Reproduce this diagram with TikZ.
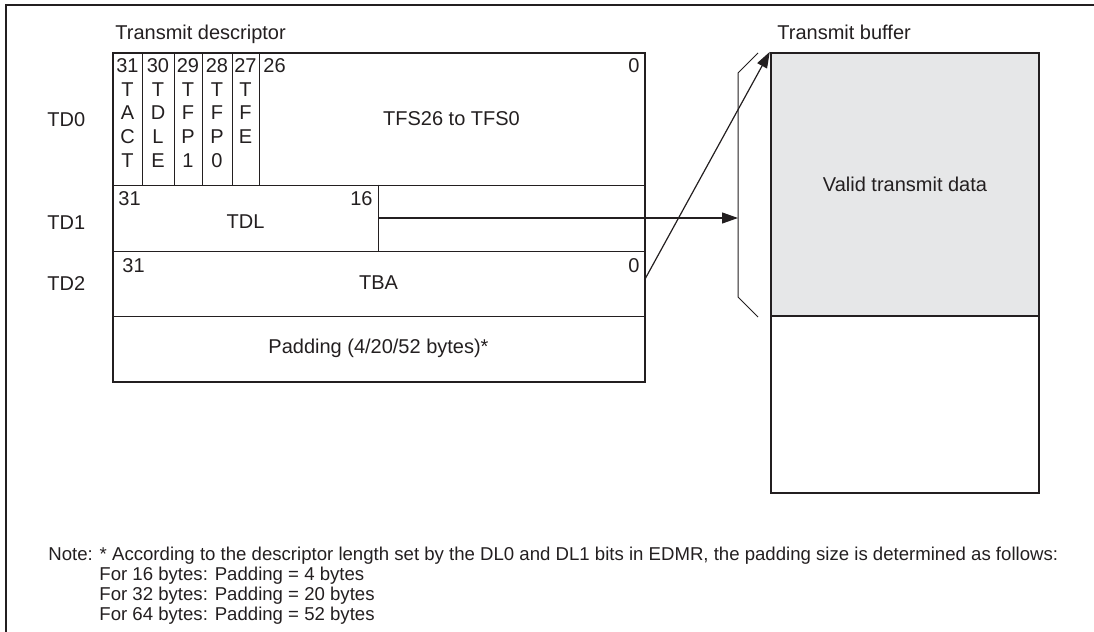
\documentclass[tikz,border=0pt]{standalone}
\usepackage{fontspec}
\setmainfont{Liberation Sans}
\usetikzlibrary{arrows.meta}
\definecolor{ink}{HTML}{231F20}
\definecolor{bufgray}{HTML}{E6E7E8}

\begin{document}
\begin{tikzpicture}[
    x=0.5pt,y=-0.5pt,
    font=\fontsize{10}{11.85}\selectfont,
    color=ink,
    >={Triangle[length=8pt,width=5.5pt]},
    fieldrow/.style={draw=ink,line width=0.5pt,inner sep=0pt,minimum width=265.5pt},
    bits/.style={inner sep=0pt,align=center,anchor=north},
    bitno/.style={inner sep=0pt},
    buf/.style={draw=ink,line width=1.2pt,inner sep=0pt,minimum width=134pt},
    rowname/.style={inner sep=0pt,anchor=base west},
    arrow/.style={->,line width=0.6pt},
    note/.style={inner sep=0pt,anchor=base west,font=\fontsize{9.3}{11}\selectfont}
  ]
  \useasboundingbox (0,0) rectangle (1094,632);
  \draw[line width=1.3pt] (6,632) -- (6,5) -- (1094,5);

  \node[rowname] (dtitle) at (115,39) {Transmit descriptor};
  \node[rowname] (btitle) at (777,39) {Transmit buffer};

  \node[fieldrow,minimum height=66pt] (td0) at (378.5,119) {};
  \node[fieldrow,minimum height=33pt] (td1) at (378.5,218) {};
  \node[fieldrow,minimum height=32.5pt] (td2) at (378.5,283.5) {};
  \node[fieldrow,minimum height=32.5pt] (pad) at (378.5,348.5) {Padding (4/20/52 bytes)*};
  \draw[line width=1pt] (td0.north west) rectangle (pad.south east);

  \node[rowname] (n0) at (47,126) {TD0};
  \node[rowname] (n1) at (47,229) {TD1};
  \node[rowname] (n2) at (47,290) {TD2};

  \foreach \x in {142,174,202,232,259}
    \draw[line width=0.5pt] (\x,53) -- (\x,185);
  \node[bits] (tact) at (127.5,58) {31\\T\\A\\C\\T};
  \node[bits] (tdle) at (158,58) {30\\T\\D\\L\\E};
  \node[bits] (tfp1) at (188,58) {29\\T\\F\\P\\1};
  \node[bits] (tfp0) at (217,58) {28\\T\\F\\P\\0};
  \node[bits] (tfe) at (245.5,58) {27\\T\\F\\E};
  \node[bitno,anchor=base west] (b26) at (263,72) {26};
  \node[bitno,anchor=base east] (b0) at (640,72) {0};
  \node (tfs) at (451.5,119) {TFS26 to TFS0};

  \coordinate (split) at (378,218);
  \draw[line width=0.5pt] (split |- td1.north) -- (split |- td1.south);
  \node[bitno,anchor=base west] (l31) at (118,205) {31};
  \node[bitno,anchor=base east] (l16) at (373,205) {16};
  \node (tdl) at (245.5,222) {TDL};

  \node[bitno,anchor=base west] (a31) at (122,272) {31};
  \node[bitno,anchor=base east] (a0) at (640,272) {0};
  \node (tba) at (378.5,283) {TBA};

  \node[buf,fill=bufgray,minimum height=131.5pt] (valid) at (905,184.5) {Valid transmit data};
  \node[buf,minimum height=88.5pt] (rest) at (905,404.5) {};

  \coordinate (brk) at (738,218);
  \draw[line width=0.5pt] (758,53) -- (738,73) -- (738,297) -- (758,317);

  \draw[arrow] (split) -- (brk);
  \draw[arrow] ([yshift=1.75pt]td2.east) -- (valid.north west);

  \node[note] (note) at (48,560) {Note: * According to the descriptor length set by the DL0 and DL1 bits in EDMR, the padding size is determined as follows:};
  \node[note] (p16) at (99,580) {For 16 bytes: Padding = 4 bytes};
  \node[note] (p32) at (99,600) {For 32 bytes: Padding = 20 bytes};
  \node[note] (p64) at (99,620) {For 64 bytes: Padding = 52 bytes};
\end{tikzpicture}
\end{document}
